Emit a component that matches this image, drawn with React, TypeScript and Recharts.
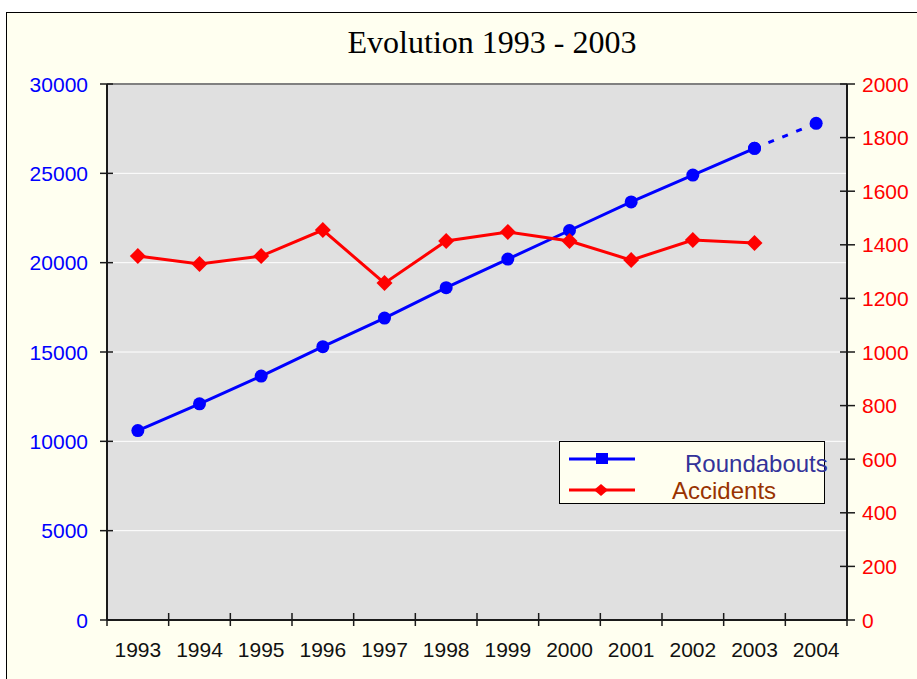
import React from "react";
import { LineChart, Line, XAxis, YAxis, CartesianGrid, ReferenceLine } from "recharts";

const years = [1993, 1994, 1995, 1996, 1997, 1998, 1999, 2000, 2001, 2002, 2003, 2004];
const roundabouts = [10600, 12100, 13650, 15300, 16900, 18600, 20200, 21800, 23400, 24900, 26400, null];
const roundaboutsForecast = [null, null, null, null, null, null, null, null, null, null, 26400, 27800];
const accidents = [1358, 1328, 1358, 1455, 1257, 1414, 1448, 1414, 1343, 1418, 1407, null];
const leftTicks = [0, 5000, 10000, 15000, 20000, 25000, 30000];
const rightTicks = [0, 200, 400, 600, 800, 1000, 1200, 1400, 1600, 1800, 2000];

const data = years.map((year, i) => ({
  year,
  roundabouts: roundabouts[i],
  forecast: roundaboutsForecast[i],
  accidents: accidents[i],
}));

// tick marks sit between the years, labels on the years
const xTicks = years.flatMap((y) => [y - 0.5, y]).concat(years[years.length - 1] + 0.5);

const SANS = "'Liberation Sans', Arial, sans-serif";
const CREAM = "#fffff0";
const AXIS = "#1a1a1a";

const XTick = (props: any) => {
  const { x, y, payload } = props;
  if (Number.isInteger(payload.value)) {
    return (
      <text x={x} y={y + 37} textAnchor="middle" fontSize={21} fontFamily={SANS} fill="#111">
        {payload.value}
      </text>
    );
  }
  return <line x1={x} x2={x} y1={y - 7} y2={y + 6} stroke={AXIS} strokeWidth={1.5} />;
};

const LeftTick = (props: any) => {
  const { x, y, payload } = props;
  return (
    <g>
      <line x1={x - 7} x2={x + 6} y1={y} y2={y} stroke={AXIS} strokeWidth={1.5} />
      <text x={x - 19} y={y + 7.5} textAnchor="end" fontSize={21} fontFamily={SANS} fill="#0000ff">
        {payload.value}
      </text>
    </g>
  );
};

const RightTick = (props: any) => {
  const { x, y, payload } = props;
  return (
    <g>
      <line x1={x - 7} x2={x + 8} y1={y} y2={y} stroke={AXIS} strokeWidth={1.5} />
      <text x={x + 15} y={y + 7.5} textAnchor="start" fontSize={21} fontFamily={SANS} fill="#ff0000">
        {payload.value}
      </text>
    </g>
  );
};

const Diamond = (props: any) => {
  const { cx, cy, index } = props;
  if (cx == null || cy == null) return <g key={`d-${index}`} />;
  return (
    <polygon
      key={`d-${index}`}
      points={`${cx},${cy - 8} ${cx + 8},${cy} ${cx},${cy + 8} ${cx - 8},${cy}`}
      fill="#ff0000"
    />
  );
};

const Circle = (props: any) => {
  const { cx, cy, index } = props;
  if (cx == null || cy == null) return <g key={`c-${index}`} />;
  return <circle key={`c-${index}`} cx={cx} cy={cy} r={6.5} fill="#0000ff" />;
};

function Legend() {
  return (
    <svg
      width={266}
      height={63}
      style={{ position: "absolute", left: 559, top: 441, overflow: "visible" }}
    >
      <rect x={0.5} y={0.5} width={265} height={62} fill={CREAM} stroke="#000" />
      <line x1={10} x2={76} y1={18} y2={18} stroke="#0000ff" strokeWidth={3} />
      <rect x={37} y={12} width={12} height={11} fill="#0000ff" />
      <text x={126} y={31} fontSize={24} fontFamily={SANS} fill="#333399">
        Roundabouts
      </text>
      <line x1={10} x2={76} y1={49} y2={49} stroke="#ff0000" strokeWidth={3} />
      <polygon points="42,43 49,49 42,55 35,49" fill="#ff0000" />
      <text x={113} y={58} fontSize={24} fontFamily={SANS} fill="#993300">
        Accidents
      </text>
    </svg>
  );
}

export default function App() {
  return (
    <div
      style={{
        position: "absolute",
        left: 0,
        top: 0,
        width: 917,
        height: 679,
        overflow: "hidden",
        background: "#fff",
      }}
    >
      <div
        style={{
          position: "absolute",
          left: 6,
          top: 12,
          width: 930,
          height: 690,
          border: "1px solid #000",
          background: CREAM,
        }}
      >
        <LineChart
          width={930}
          height={690}
          data={data}
          margin={{ top: 71, right: 20, bottom: 23, left: 0 }}
        >
          <CartesianGrid
            yAxisId="left"
            vertical={false}
            stroke="#ffffff"
            fill="#e0e0e0"
            fillOpacity={1}
          />
          <XAxis
            dataKey="year"
            type="number"
            domain={[1992.5, 2004.5]}
            ticks={xTicks}
            interval={0}
            height={60}
            tickSize={0}
            tickMargin={0}
            tickLine={false}
            axisLine={{ stroke: AXIS, strokeWidth: 2 }}
            tick={<XTick />}
          />
          <YAxis
            yAxisId="left"
            domain={[0, 30000]}
            ticks={leftTicks}
            interval={0}
            width={100}
            tickSize={0}
            tickMargin={0}
            tickLine={false}
            axisLine={{ stroke: AXIS, strokeWidth: 2 }}
            tick={<LeftTick />}
          />
          <YAxis
            yAxisId="right"
            orientation="right"
            domain={[0, 2000]}
            ticks={rightTicks}
            interval={0}
            width={70}
            tickSize={0}
            tickMargin={0}
            tickLine={false}
            axisLine={{ stroke: AXIS, strokeWidth: 2 }}
            tick={<RightTick />}
          />
          <ReferenceLine yAxisId="left" y={30000} stroke="#808080" strokeWidth={2} />
          <Line
            yAxisId="left"
            dataKey="roundabouts"
            stroke="#0000ff"
            strokeWidth={3}
            dot={Circle}
            isAnimationActive={false}
          />
          <Line
            yAxisId="left"
            dataKey="forecast"
            stroke="#0000ff"
            strokeWidth={3}
            strokeDasharray="6 9"
            dot={Circle}
            isAnimationActive={false}
          />
          <Line
            yAxisId="right"
            dataKey="accidents"
            stroke="#ff0000"
            strokeWidth={3}
            dot={Diamond}
            isAnimationActive={false}
          />
        </LineChart>
      </div>
      <div
        style={{
          position: "absolute",
          left: 0,
          top: 26,
          width: 984,
          textAlign: "center",
          fontFamily: "'Liberation Serif', 'Times New Roman', serif",
          fontSize: 32,
          lineHeight: "32px",
          color: "#000",
        }}
      >
        Evolution 1993 - 2003
      </div>
      <Legend />
    </div>
  );
}
